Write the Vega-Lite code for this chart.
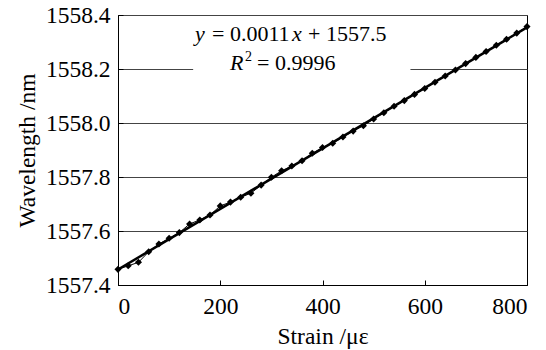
{
  "$schema": "https://vega.github.io/schema/vega-lite/v6.json",
  "width": 409,
  "height": 270,
  "autosize": {"type": "none"},
  "padding": {"left": 118, "top": 15, "right": 19, "bottom": 65},
  "background": "white",
  "config": {
    "font": "'Liberation Serif', 'DejaVu Serif', serif",
    "view": {"stroke": "black", "strokeWidth": 1},
    "text": {"font": "'Liberation Serif', 'DejaVu Serif', serif"},
    "axis": {
      "domainColor": "black",
      "tickColor": "black",
      "labelColor": "black",
      "titleColor": "black",
      "labelFontSize": 23.5,
      "titleFontSize": 23.5,
      "titleFontWeight": "normal",
      "labelFont": "'Liberation Serif', 'DejaVu Serif', serif",
      "titleFont": "'Liberation Serif', 'DejaVu Serif', serif"
    }
  },
  "data": {
    "values": [
      {"strain": 0, "wavelength": 1557.458},
      {"strain": 20, "wavelength": 1557.471},
      {"strain": 40, "wavelength": 1557.484},
      {"strain": 60, "wavelength": 1557.523},
      {"strain": 80, "wavelength": 1557.552},
      {"strain": 100, "wavelength": 1557.573},
      {"strain": 120, "wavelength": 1557.594},
      {"strain": 140, "wavelength": 1557.626},
      {"strain": 160, "wavelength": 1557.641},
      {"strain": 180, "wavelength": 1557.659},
      {"strain": 200, "wavelength": 1557.693},
      {"strain": 220, "wavelength": 1557.707},
      {"strain": 240, "wavelength": 1557.725},
      {"strain": 260, "wavelength": 1557.740},
      {"strain": 280, "wavelength": 1557.770},
      {"strain": 300, "wavelength": 1557.799},
      {"strain": 320, "wavelength": 1557.823},
      {"strain": 340, "wavelength": 1557.841},
      {"strain": 360, "wavelength": 1557.860},
      {"strain": 380, "wavelength": 1557.888},
      {"strain": 400, "wavelength": 1557.909},
      {"strain": 420, "wavelength": 1557.925},
      {"strain": 440, "wavelength": 1557.948},
      {"strain": 460, "wavelength": 1557.970},
      {"strain": 480, "wavelength": 1557.990},
      {"strain": 500, "wavelength": 1558.015},
      {"strain": 520, "wavelength": 1558.038},
      {"strain": 540, "wavelength": 1558.062},
      {"strain": 560, "wavelength": 1558.083},
      {"strain": 580, "wavelength": 1558.106},
      {"strain": 600, "wavelength": 1558.128},
      {"strain": 620, "wavelength": 1558.151},
      {"strain": 640, "wavelength": 1558.174},
      {"strain": 660, "wavelength": 1558.196},
      {"strain": 680, "wavelength": 1558.220},
      {"strain": 700, "wavelength": 1558.243},
      {"strain": 720, "wavelength": 1558.265},
      {"strain": 740, "wavelength": 1558.288},
      {"strain": 760, "wavelength": 1558.310},
      {"strain": 780, "wavelength": 1558.333},
      {"strain": 800, "wavelength": 1558.357}
    ]
  },
  "layer": [
    {
      "transform": [{"regression": "wavelength", "on": "strain", "extent": [0, 800]}],
      "mark": {"type": "line", "color": "black", "strokeWidth": 2.5},
      "encoding": {
        "x": {
          "field": "strain", "type": "quantitative",
          "scale": {"domain": [0, 800], "nice": false},
          "axis": {
            "values": [0, 200, 400, 600, 800],
            "grid": false,
            "tickSize": -5,
            "labelPadding": 14,
            "title": "Strain /με",
            "titlePadding": 7
          }
        },
        "y": {
          "field": "wavelength", "type": "quantitative",
          "scale": {"domain": [1557.4, 1558.4], "zero": false, "nice": false},
          "axis": {
            "values": [1557.4, 1557.6, 1557.8, 1558.0, 1558.2, 1558.4],
            "format": ".1f",
            "grid": true,
            "gridColor": "#444444",
            "gridWidth": 1,
            "tickSize": -5,
            "labelPadding": 13,
            "title": "Wavelength /nm",
            "titlePadding": 6
          }
        }
      }
    },
    {
      "mark": {"type": "line", "color": "black", "strokeWidth": 1},
      "encoding": {
        "x": {"field": "strain", "type": "quantitative"},
        "y": {"field": "wavelength", "type": "quantitative"}
      }
    },
    {
      "mark": {"type": "point", "shape": "diamond", "filled": true, "color": "black", "opacity": 1, "size": 50},
      "encoding": {
        "x": {"field": "strain", "type": "quantitative"},
        "y": {"field": "wavelength", "type": "quantitative"}
      }
    },
    {
      "data": {"values": [{"box": 1}]},
      "mark": {"type": "rect", "color": "white", "opacity": 1},
      "encoding": {
        "x": {"datum": 147},
        "x2": {"datum": 572},
        "y": {"datum": 1558.16},
        "y2": {"datum": 1558.38}
      }
    },
    {
      "data": {"values": [{"t": 1}]},
      "mark": {"type": "text", "text": "y", "fontStyle": "italic", "align": "left", "baseline": "alphabetic", "fontSize": 22, "color": "black"},
      "encoding": {"x": {"datum": 150.6}, "y": {"datum": 1558.302}}
    },
    {
      "data": {"values": [{"t": 1}]},
      "mark": {"type": "text", "text": "= 0.0011", "align": "left", "baseline": "alphabetic", "fontSize": 22, "dx": 17, "color": "black"},
      "encoding": {"x": {"datum": 150.6}, "y": {"datum": 1558.302}}
    },
    {
      "data": {"values": [{"t": 1}]},
      "mark": {"type": "text", "text": "x", "fontStyle": "italic", "align": "left", "baseline": "alphabetic", "fontSize": 22, "dx": 97, "color": "black"},
      "encoding": {"x": {"datum": 150.6}, "y": {"datum": 1558.302}}
    },
    {
      "data": {"values": [{"t": 1}]},
      "mark": {"type": "text", "text": "+ 1557.5", "align": "left", "baseline": "alphabetic", "fontSize": 22, "dx": 113, "color": "black"},
      "encoding": {"x": {"datum": 150.6}, "y": {"datum": 1558.302}}
    },
    {
      "data": {"values": [{"t": 1}]},
      "mark": {"type": "text", "text": "R", "fontStyle": "italic", "align": "left", "baseline": "alphabetic", "fontSize": 22, "dx": 35, "color": "black"},
      "encoding": {"x": {"datum": 150.6}, "y": {"datum": 1558.196}}
    },
    {
      "data": {"values": [{"t": 1}]},
      "mark": {"type": "text", "text": "2", "align": "left", "baseline": "alphabetic", "fontSize": 14, "dx": 50, "dy": -9, "color": "black"},
      "encoding": {"x": {"datum": 150.6}, "y": {"datum": 1558.196}}
    },
    {
      "data": {"values": [{"t": 1}]},
      "mark": {"type": "text", "text": "= 0.9996", "align": "left", "baseline": "alphabetic", "fontSize": 22, "dx": 62, "color": "black"},
      "encoding": {"x": {"datum": 150.6}, "y": {"datum": 1558.196}}
    }
  ]
}
